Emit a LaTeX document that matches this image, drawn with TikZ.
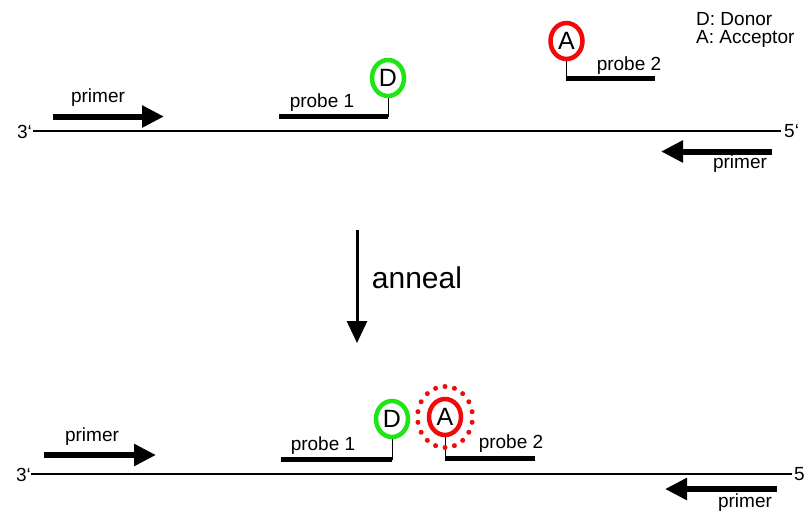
\documentclass[tikz,border=0pt]{standalone}
\usepackage{fontspec}
\setmainfont{Liberation Sans}
\usetikzlibrary{arrows.meta,shapes.geometric,calc}
\definecolor{dgreen}{RGB}{30,230,20}
\definecolor{dred}{RGB}{240,10,10}
\tikzset{
  strand/.style={line width=2pt},
  probebar/.style={line width=5pt},
  stem/.style={line width=1pt},
  primerarrow/.style={line width=6pt,-{Triangle[length=22pt,width=21pt]}},
  annealarrow/.style={line width=3pt,-{Triangle[length=22pt,width=20pt]}},
  lbl/.style={inner sep=0pt,font=\fontsize{19}{22}\selectfont},
  endlbl/.style={inner sep=0pt,font=\fontsize{19}{22}\selectfont},
  dye/.style={ellipse,minimum width=32pt,minimum height=36pt,line width=4.5pt,inner sep=0pt,font=\fontsize{25}{28}\selectfont},
}
\begin{document}
\begin{tikzpicture}[x=1pt,y=-1pt]
\useasboundingbox (0,0) rectangle (804,512);
% legend
\node[lbl,anchor=west] (legD) at (696,19) {D: Donor};
\node[lbl,anchor=west] (legA) at (696,39) {A: Acceptor};
% ---------- top ----------
\coordinate (s1a) at (33,131);
\coordinate (s1b) at (781,131);
\draw[strand] (s1a) -- (s1b);
\node[endlbl,anchor=east] (t3) at (32,132) {3‘};
\node[endlbl,anchor=west] (t5) at (784,131) {5‘};
\coordinate (tp1a) at (53,116.5);
\coordinate (tp1b) at (164,116.5);
\draw[primerarrow] (tp1a) -- (tp1b);
\node[lbl] (tpl1) at (98,98) {primer};
\coordinate (tp2a) at (772,151.5);
\coordinate (tp2b) at (661,151.5);
\draw[primerarrow] (tp2a) -- (tp2b);
\node[lbl] (tpl2) at (740,164) {primer};
\coordinate (tb1a) at (279,116.5);
\coordinate (tb1b) at (388,116.5);
\draw[probebar] (tb1a) -- (tb1b);
\node[lbl] (tbl1) at (322,103) {probe 1};
\node[dye,draw=dgreen] (D1) at (388,78) {D};
\draw[stem] (D1.south) -- (tb1b);
\coordinate (tb2a) at (566,78.5);
\coordinate (tb2b) at (655,78.5);
\draw[probebar] (tb2a) -- (tb2b);
\node[lbl] (tbl2) at (629,66) {probe 2};
\node[dye,draw=dred] (A1) at (566.5,41) {A};
\draw[stem] (A1.south) -- (566.5,78.5);
% ---------- anneal ----------
\coordinate (an1) at (357,230);
\coordinate (an2) at (357,343);
\draw[annealarrow] (an1) -- (an2);
\node[inner sep=0pt,font=\fontsize{30}{34}\selectfont] (annl) at (417,278) {anneal};
% ---------- bottom ----------
\coordinate (s2a) at (31,474);
\coordinate (s2b) at (792,474);
\draw[strand] (s2a) -- (s2b);
\node[endlbl,anchor=east] (b3) at (31,475) {3‘};
\node[endlbl,anchor=west] (b5) at (794,474) {5‘};
\coordinate (bp1a) at (44,455);
\coordinate (bp1b) at (156,455);
\draw[primerarrow] (bp1a) -- (bp1b);
\node[lbl] (bpl1) at (92,437) {primer};
\coordinate (bp2a) at (777,489);
\coordinate (bp2b) at (665,489);
\draw[primerarrow] (bp2a) -- (bp2b);
\node[lbl] (bpl2) at (745,503) {primer};
\coordinate (bb1a) at (281,459.5);
\coordinate (bb1b) at (392,459.5);
\draw[probebar] (bb1a) -- (bb1b);
\node[lbl] (bbl1) at (323,446) {probe 1};
\node[dye,draw=dgreen] (D2) at (392,419) {D};
\draw[stem] (D2.south) -- (bb1b);
\coordinate (bb2a) at (445,458);
\coordinate (bb2b) at (535,458);
\draw[probebar] (bb2a) -- (bb2b);
\node[lbl] (bbl2) at (511,444) {probe 2};
\node[dye,draw=dred] (A2) at (445,417) {A};
\draw[stem] (A2.south) -- (bb2a);
\foreach \k in {0,...,17} {
  \fill[dred] ($(A2.center)+({27.5*cos(90+20*\k)},{-30.5*sin(90+20*\k)})$) circle (2.5);
}
\end{tikzpicture}
\end{document}
